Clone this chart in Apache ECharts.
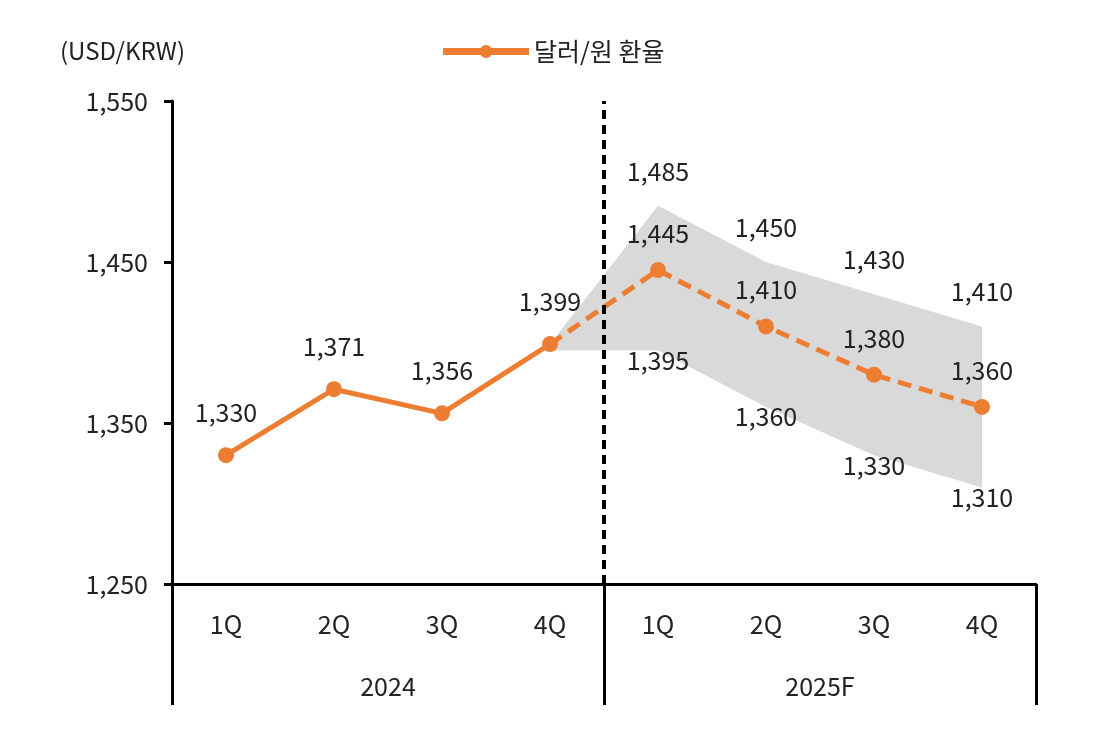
<!DOCTYPE html>
<html><head><meta charset="utf-8">
<script src="https://cdn.jsdelivr.net/npm/echarts@6/dist/echarts.min.js"></script>
<style>html,body{margin:0;background:#fff}#c{width:1104px;height:747px}</style>
</head><body><div id="c"></div>
<script>
const quarters = ['1Q','2Q','3Q','4Q','1Q','2Q','3Q','4Q'];
const years = ['2024','2025F'];
const actual = [1330, 1371, 1356, 1399];
const forecast = [1399, 1445, 1410, 1380, 1360];
const bandLow = [1395, 1395, 1360, 1330, 1310];
const bandHigh = [1399, 1485, 1450, 1430, 1410];

const F = 'Noto Sans CJK KR';
const orange = '#ED7D31';
const pos = i => i + 0.5;
const actualData = actual.map((v,i)=>[pos(i),v]);
const fcData = forecast.map((v,i)=>[pos(i+3),v]);
const lbl = {color:'#222',fontSize:25,fontFamily:F,formatter:p=>p.value[1].toLocaleString('en-US')};

const chart = echarts.init(document.getElementById('c'));
chart.setOption({
  animation:false,
  textStyle:{fontFamily:F},
  legend:{data:['달러/원 환율'],top:34,left:'center',itemWidth:86,itemHeight:16,
    lineStyle:{width:7},
    textStyle:{fontSize:25,color:'#222',fontFamily:F}},
  grid:{left:172,right:68,top:101,bottom:163},
  xAxis:[
    {type:'value',min:0,max:8,show:false},
    {type:'category',data:quarters,position:'bottom',
      axisLine:{lineStyle:{color:'#000',width:3}},axisTick:{show:false},
      axisLabel:{margin:28,fontSize:25,color:'#222',fontFamily:F}},
    {type:'category',data:years,position:'bottom',
      axisLine:{show:false},axisTick:{show:true,length:121,lineStyle:{color:'#000',width:3}},
      axisLabel:{margin:90,fontSize:25,color:'#222',fontFamily:F}}
  ],
  yAxis:{type:'value',min:1250,max:1550,interval:100,name:'(USD/KRW)',
    nameGap:38,nameTextStyle:{fontSize:24,color:'#222',fontFamily:F,align:'right',padding:[0,-13,0,0]},
    axisLine:{show:true,lineStyle:{color:'#000',width:3}},
    axisTick:{show:true,length:8,lineStyle:{color:'#000',width:3}},
    splitLine:{show:false},
    axisLabel:{margin:24,fontSize:25,color:'#222',fontFamily:F,formatter:v=>v.toLocaleString('en-US')}},
  series:[
    {name:'band',type:'custom',silent:true,z:1,
      data:[0],
      renderItem:(params,api)=>{
        const top = bandHigh.map((v,i)=>api.coord([pos(i+3),v]));
        const bot = bandLow.map((v,i)=>api.coord([pos(i+3),v])).reverse();
        return {type:'polygon',shape:{points:top.concat(bot)},style:{fill:'#d9d9d9'}};
      }},
    {name:'upperLbl',type:'scatter',data:bandHigh.slice(1).map((v,i)=>[pos(i+4),v]),symbolSize:0,
      itemStyle:{opacity:1},
      label:{show:true,position:'top',distance:22,...lbl},z:5},
    {name:'lowerLbl',type:'scatter',data:bandLow.slice(1).map((v,i)=>[pos(i+4),v]),symbolSize:0,
      itemStyle:{opacity:1},
      label:{show:true,position:'inside',offset:[0,10],...lbl},z:5},
    {name:'달러/원 환율',type:'line',data:actualData,symbol:'circle',symbolSize:16,
      lineStyle:{color:orange,width:5},itemStyle:{color:orange},
      label:{show:true,position:'top',distance:22,...lbl},z:3,
      markLine:{silent:true,symbol:'none',label:{show:false},
        lineStyle:{color:'#000',width:4,type:[9,6]},data:[{xAxis:4}]}},
    {name:'forecast',type:'line',data:fcData.map((d,i)=>i===0?{value:d,symbol:'none',label:{show:false}}:d),
      symbol:'circle',symbolSize:16,
      lineStyle:{color:orange,width:5,type:[14,8]},itemStyle:{color:orange},
      label:{show:true,position:'top',distance:16,...lbl},z:3}
  ]
});
</script></body></html>
